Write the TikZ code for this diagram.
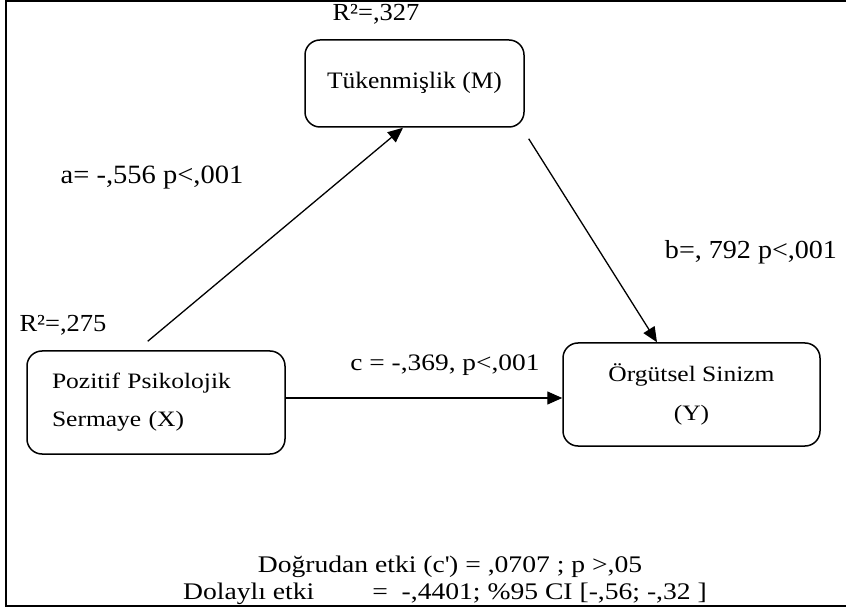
\documentclass[tikz,border=0pt]{standalone}
\usepackage{fontspec}
\setmainfont{Liberation Serif}
\newfontfamily\widefont[FakeStretch=1.16]{Liberation Serif}
\newfontfamily\narrowfont[FakeStretch=1.08]{Liberation Serif}
\usetikzlibrary{arrows.meta}
\tikzset{
  box/.style={draw, line width=1.5pt, rounded corners=15pt, inner sep=0pt},
  arr/.style={line width=1.3pt, -{Triangle[length=15pt,width=13pt]}},
  narrow/.style={font=\narrowfont\fontsize{#1}{30}\selectfont},
  wide/.style={font=\widefont\fontsize{#1}{39}\selectfont}
}

\begin{document}
\begin{tikzpicture}[x=1pt,y=-1pt]
\useasboundingbox (0,0) rectangle (846,609);
\draw[line width=2pt] (846,1) -- (6,1) -- (6,606) -- (846,606);
\node[box, narrow=23.6, minimum width=219pt, minimum height=87pt] (M) at (414.5,83.5) {\raisebox{7pt}{Tükenmişlik (M)}};
\node[box, wide=22, minimum width=258pt, minimum height=103pt, text width=208pt, align=left] (X) at (156,402.5) {Pozitif Psikolojik\\[-1pt]Sermaye (X)};
\node[box, wide=22, minimum width=257pt, minimum height=103pt, align=center] (Y) at (691.5,394.5) {Örgütsel Sinizm\\(Y)};
\node[narrow=24.5] (rM) at (376,14) {R²=,327};
\node[narrow=24.5] (rX) at (63,325) {R²=,275};
\node[narrow=26.4] (la) at (152,178) {a= -,556 p<,001};
\node[narrow=26] (lb) at (751,252) {b=, 792 p<,001};
\node[wide=23.6] (lc) at (445,365) {c = -,369, p<,001};
\node[wide=23.8] (d1) at (450,567) {Doğrudan etki (c\textquotesingle) = ,0707 ; p >,05};
\node[wide=23.8] (d2) at (445,594) {Dolaylı etki\hspace{58pt}= \ -,4401; \%95 CI [-,56; -,32 ]};
\draw[arr, shorten <=14pt] ([xshift=-19pt]X.north) -- ([xshift=-11.5pt]M.south);
\draw[arr, shorten <=13pt] ([xshift=-3pt]M.south east) -- ([xshift=-34.5pt]Y.north);
\draw[arr] ([yshift=4.5pt]X.east) -- ([yshift=4.5pt]X.east -| Y.west);
\end{tikzpicture}
\end{document}
